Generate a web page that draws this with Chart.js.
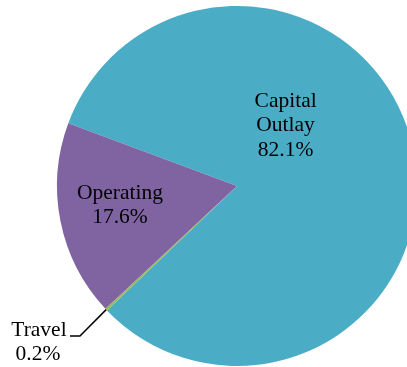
<!DOCTYPE html>
<html>
<head>
<meta charset="utf-8">
<script src="https://cdn.jsdelivr.net/npm/chart.js@4"></script>
<style>
  html, body { margin: 0; padding: 0; background: #fff; overflow: hidden; }
  #contenedor { width: 474px; height: 367px; position: relative; }
</style>
</head>
<body>
<div id="contenedor"><canvas id="grafico"></canvas></div>
<script>
// Datos del presupuesto (porcentaje)
const categorias = ['Capital Outlay', 'Travel', 'Operating'];
const valores = [82.1, 0.2, 17.6];
const etiquetas = [['Capital', 'Outlay', '82.1%'], ['Travel', '0.2%'], ['Operating', '17.6%']];
const colores = ['#4BACC6', '#9BBB59', '#8064A2'];

const fuente = '21.5px "Liberation Serif", "Times New Roman", serif';

// Dibuja las etiquetas de cada porción (y la línea guía de Travel)
const pluginEtiquetas = {
  id: 'etiquetas',
  afterDatasetsDraw(chart) {
    const ctx = chart.ctx;
    const arcos = chart.getDatasetMeta(0).data;
    const a0 = arcos[0];
    const cx = a0.x, cy = a0.y, r = a0.outerRadius;
    ctx.save();
    ctx.font = fuente;
    ctx.fillStyle = '#000';
    ctx.textAlign = 'center';
    ctx.textBaseline = 'alphabetic';
    const alto = 24.5;

    // Capital Outlay
    etiquetas[0].forEach((t, i) => ctx.fillText(t, cx + 0.27 * r, cy - 0.44 * r + i * alto));
    // Operating
    etiquetas[2].forEach((t, i) => ctx.fillText(t, cx - 0.65 * r, cy + 0.07 * r + i * alto));

    // Travel: línea guía desde el borde de la porción
    const at = arcos[1];
    const ang = (at.startAngle + at.endAngle) / 2;
    const px = at.x + Math.cos(ang) * at.outerRadius;
    const py = at.y + Math.sin(ang) * at.outerRadius;
    const ly = cy + 0.833 * r;
    const lx = cx - 0.928 * r;
    ctx.strokeStyle = '#000';
    ctx.lineWidth = 1.5;
    ctx.beginPath();
    ctx.moveTo(px, py);
    ctx.lineTo(lx + 10, ly);
    ctx.lineTo(lx, ly);
    ctx.stroke();
    ctx.fillText(etiquetas[1][0], lx - 31, ly);
    ctx.fillText(etiquetas[1][1], lx - 32, ly + alto);
    ctx.restore();
  }
};

new Chart(document.getElementById('grafico'), {
  type: 'pie',
  data: {
    labels: categorias,
    datasets: [{
      data: valores,
      backgroundColor: colores,
      borderWidth: 0
    }]
  },
  options: {
    responsive: true,
    maintainAspectRatio: false,
    animation: false,
    rotation: 290.4,
    layout: { padding: { top: 6, bottom: 1 } },
    plugins: {
      legend: { display: false },
      tooltip: { enabled: false }
    }
  },
  plugins: [pluginEtiquetas]
});
</script>
</body>
</html>
